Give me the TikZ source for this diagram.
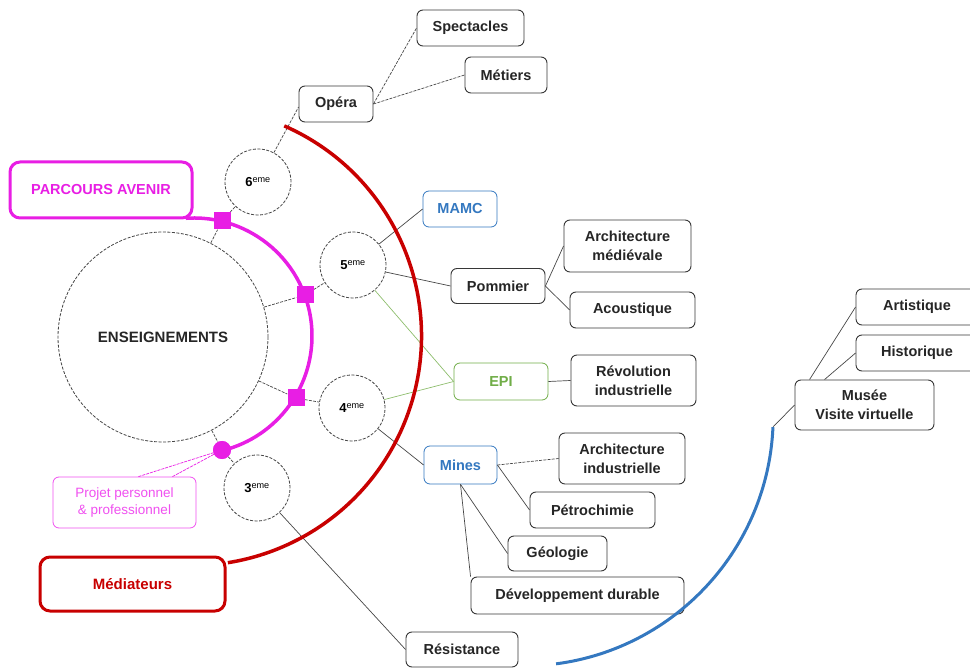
\documentclass[tikz,border=0pt]{standalone}
\usepackage{fontspec}
\setmainfont{Liberation Sans}
\definecolor{mag}{RGB}{232,30,228}
\definecolor{magl}{RGB}{240,80,240}
\definecolor{redc}{RGB}{200,0,0}
\definecolor{bluec}{RGB}{52,120,192}
\definecolor{greenc}{RGB}{112,173,71}
\definecolor{edgec}{RGB}{55,55,55}
\definecolor{linec}{RGB}{70,70,70}
\begin{document}
\begin{tikzpicture}[x=1pt,y=-1pt,
  sz/.style 2 args={minimum width=#1pt, minimum height=#2pt},
  box/.style={draw=edgec, line width=0.9pt, rounded corners=6pt, fill=white, align=center,
    inner sep=2pt, font=\fontsize{14.5}{19}\selectfont\bfseries, text=black!85},
  bigbox/.style={line width=3pt, rounded corners=10pt, fill=white, align=center,
    font=\fontsize{14.5}{18}\selectfont\bfseries},
  grade/.style={circle, draw=linec, line width=0.8pt, dash pattern=on 3pt off 1.5pt, fill=white,
    minimum size=66pt, inner sep=0pt, font=\fontsize{13}{15}\selectfont\bfseries},
  sq/.style={fill=mag, minimum size=17pt, inner sep=0pt},
  conn/.style={draw=linec, line width=0.7pt},
  dconn/.style={conn, dash pattern=on 3pt off 1.2pt},
  gconn/.style={draw=greenc!80, line width=0.7pt},
  pline/.style={draw=mag, line width=0.7pt, dash pattern=on 3pt off 1pt}
]
\useasboundingbox (0,0) rectangle (970,668);

% central circle and grade circles
\node[circle, draw=linec, line width=0.8pt, dash pattern=on 3pt off 1.5pt, fill=white,
  minimum size=210pt, inner sep=0pt, font=\fontsize{15}{18}\selectfont\bfseries, text=black!85]
  (ens) at (163,337) {ENSEIGNEMENTS};
\node[grade] (c6) at (258,182) {6\textsuperscript{\mdseries eme}};
\node[grade] (c5) at (353,265) {5\textsuperscript{\mdseries eme}};
\node[grade] (c4) at (352,408) {4\textsuperscript{\mdseries eme}};
\node[grade] (c3) at (257,488) {3\textsuperscript{\mdseries eme}};

% magenta markers
\node[sq] (sq1) at (222,221) {};
\node[sq] (sq2) at (305,295) {};
\node[sq] (sq3) at (296,398) {};
\node[circle, fill=mag, minimum size=18pt, inner sep=0pt] (dot) at (222,450) {};

% boxes
\node[box, sz={107}{36}] (spec) at (470.5,28) {Spectacles};
\node[box, sz={82}{36}] (met) at (506,75) {Métiers};
\node[box, sz={74}{36}] (opera) at (336,104) {Opéra};
\node[bigbox, draw=mag, text=mag, sz={182}{56}] (parc) at (101,190) {PARCOURS AVENIR};
\node[box, draw=bluec, text=bluec, line width=0.8pt, sz={74}{36}] (mamc) at (460,209) {MAMC};
\node[box, sz={94}{35}] (pom) at (498,286) {Pommier};
\node[box, sz={127}{52}] (archm) at (627.5,246) {Architecture\\médiévale};
\node[box, sz={125}{36}] (acou) at (632.5,310) {Acoustique};
\node[box, draw=greenc, text=greenc, line width=0.8pt, sz={94}{37}] (epi) at (501,381.5) {EPI};
\node[box, sz={125}{51}] (rev) at (633.5,380.5) {Révolution\\industrielle};
\node[box, draw=bluec, text=bluec, line width=0.8pt, sz={73}{38}] (mines) at (460.5,465) {Mines};
\node[box, sz={126}{51}] (archi) at (622,458.5) {Architecture\\industrielle};
\node[box, sz={125}{36}] (petro) at (592.5,510) {Pétrochimie};
\node[box, sz={99}{35}] (geo) at (557.5,553.5) {Géologie};
\node[box, sz={213}{37}] (dev) at (577.5,595.5) {Développement durable};
\node[box, sz={112}{35}] (res) at (462,649.5) {Résistance};
\node[bigbox, draw=redc, text=redc, sz={185}{54}, font=\fontsize{15}{18}\selectfont\bfseries] (med) at (132.5,584) {Médiateurs};
\node[draw=magl, line width=0.8pt, rounded corners=6pt, fill=white, align=center, text=magl,
  sz={143}{51}, font=\fontsize{13.5}{17}\selectfont] (proj) at (124.5,502.5) {Projet personnel\\\& professionnel};
\node[box, sz={122}{36}] (art) at (917,307) {Artistique};
\node[box, sz={122}{36}] (hist) at (917,353) {Historique};
\node[box, sz={139}{50}] (mus) at (864.5,405) {Musée\\Visite virtuelle};
\coordinate (btop) at (773,427);

% connectors
\draw[dconn] (ens) -- (sq1) -- (c6);
\draw[dconn] (ens) -- (sq2) -- (c5);
\draw[dconn] (ens) -- (sq3) -- (c4);
\draw[dconn] (ens) -- (dot) -- (c3);
\draw[dconn] (c6) -- ([yshift=-3pt]opera.west);
\draw[dconn] (opera.east) -- (spec.west);
\draw[dconn] (opera.east) -- (met.west);
\draw[conn] (c5) -- (mamc.west);
\draw[conn] (c5) -- (pom.west);
\draw[gconn] (c5) -- (epi.west);
\draw[gconn] (c4) -- (epi.west);
\draw[conn] (pom.east) -- (archm.west);
\draw[conn] (pom.east) -- (acou.west);
\draw[conn] (epi.east) -- (rev.west);
\draw[conn] (c4) -- (mines.west);
\draw[dconn] (mines.east) -- (archi.west);
\draw[conn] (mines.east) -- (petro.west);
\draw[conn] (mines.south) -- (geo.west);
\draw[conn] (mines.south) -- (dev.north west);
\draw[conn] (c3) -- (res.west);
\draw[conn] ([xshift=15pt]mus.north west) -- (art.west);
\draw[conn] ([xshift=30pt]mus.north west) -- (hist.west);
\draw[conn] (mus.west) -- (btop);
\draw[pline] ([xshift=14pt]proj.north) -- (dot);
\draw[pline] ([xshift=48pt]proj.north) -- (dot);

% arcs
\coordinate (mc) at (194,336);
\draw[mag, line width=3.5pt] (mc) ++(-94:118) arc[start angle=-94, end angle=76, radius=118];
\coordinate (rc) at (192,336);
\draw[redc, line width=3.5pt] (rc) ++(-66.3:229.5) arc[start angle=-66.3, end angle=81, radius=229.5];
\coordinate (bc) at (523.5,416.3);
\draw[bluec, line width=3pt] (bc) ++(2.5:249.7) arc[start angle=2.5, end angle=82.5, radius=249.7];

% redraw markers on top of arc
\node[sq] at (sq1) {};
\node[sq] at (sq2) {};
\node[sq] at (sq3) {};
\node[circle, fill=mag, minimum size=18pt, inner sep=0pt] at (dot) {};
\end{tikzpicture}
\end{document}
